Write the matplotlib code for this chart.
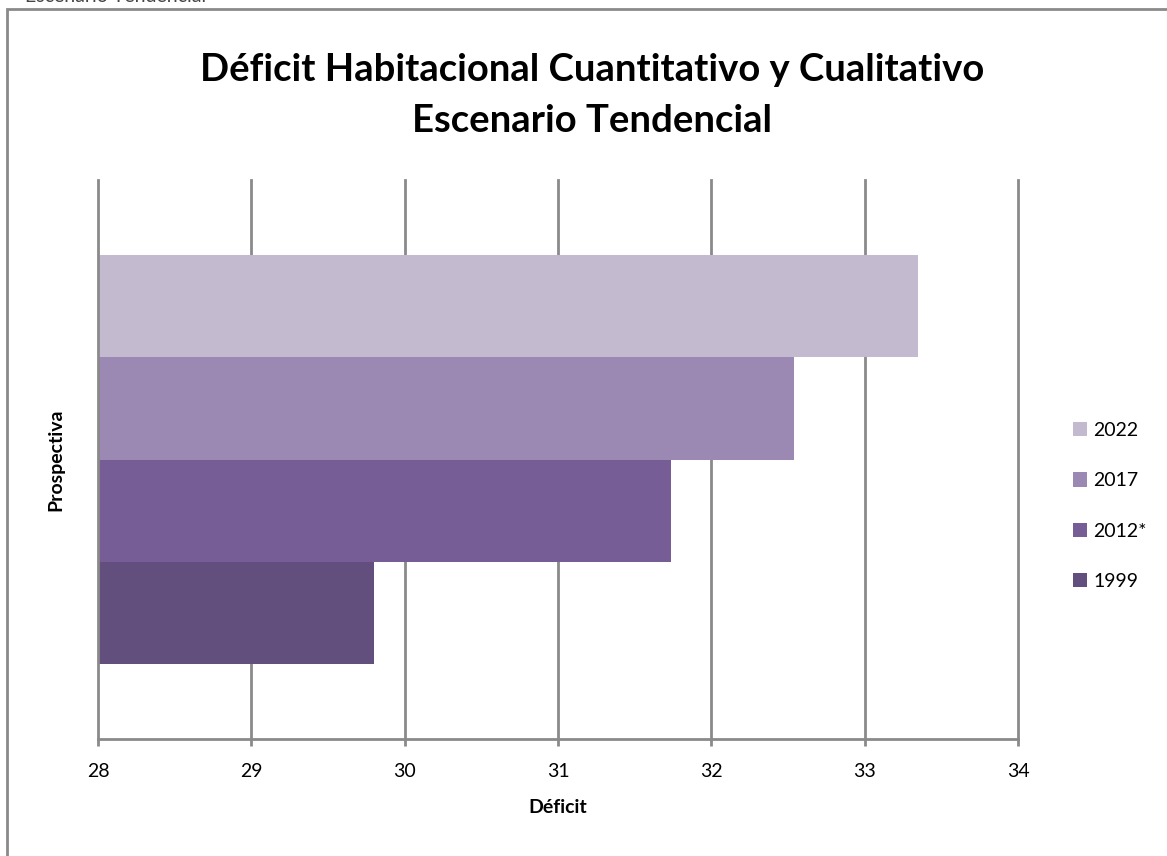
import matplotlib.pyplot as plt
import numpy as np
from matplotlib.patches import Rectangle

# Data
category = 'Prospectiva'
series = ['2022', '2017', '2012*', '1999']
values = [33.35, 32.54, 31.74, 29.80]
colors = ['#C3BAD0', '#9B89B3', '#775D96', '#634F7D']
xticks = [28, 29, 30, 31, 32, 33, 34]


def plot_deficit():
    plt.rcParams['font.family'] = ['Lato', 'DejaVu Sans']

    fig = plt.figure(figsize=(11.67, 8.56), dpi=100)
    W, H = 1167, 856

    # chart frame (runs off the right and bottom edge, as in the source)
    fig.patches.append(Rectangle((7 / W, -0.1), 1.2, 1 - 9 / H + 0.1,
                                 transform=fig.transFigure, fill=False,
                                 edgecolor='#8a8a8a', linewidth=2))
    # cut-off text from the page above the chart
    fig.text(25 / W, 1 - 1.5 / H, 'Escenario Tendencial', fontsize=14,
             ha='left', va='baseline', color='#444444')

    ax = fig.add_axes([98 / W, 1 - 739 / H, 920 / W, 559 / H])

    h = 0.183
    offsets = (1.5 - np.arange(len(series))) * h
    for name, val, col, off in zip(series, values, colors, offsets):
        ax.barh(off, val, height=h, color=col, label=name, zorder=3)

    ax.set_xlim(28, 34)
    ax.set_ylim(-0.5, 0.5)
    ax.set_xticks(xticks)
    ax.set_xticklabels([str(t) for t in xticks], fontsize=14)
    ax.set_yticks([])

    for t in xticks[1:]:
        ax.axvline(t, color='#8a8a8a', linewidth=2, zorder=0, clip_on=False)
    for s in ['top', 'right']:
        ax.spines[s].set_visible(False)
    for s in ['left', 'bottom']:
        ax.spines[s].set_color('#8a8a8a')
        ax.spines[s].set_linewidth(2)
        ax.spines[s].set_zorder(4)
    ax.tick_params(axis='x', direction='out', length=5, width=2,
                   color='#8a8a8a', pad=12)

    ax.set_xlabel('Déficit', fontsize=14, fontweight='bold', labelpad=14)
    ax.set_ylabel('Prospectiva', fontsize=14, fontweight='bold', labelpad=24)

    fig.text(592 / W, 1 - 70 / H, 'Déficit Habitacional Cuantitativo y Cualitativo',
             ha='center', va='center', fontsize=27.5, fontweight='bold')
    fig.text(592 / W, 1 - 121 / H, 'Escenario Tendencial',
             ha='center', va='center', fontsize=27.5, fontweight='bold')

    ax.legend(loc='center left', bbox_to_anchor=(1.051, 0.417), frameon=False,
              fontsize=14, handlelength=0.75, handleheight=0.75,
              handletextpad=0.3, labelspacing=1.72, borderaxespad=0)

    fig.savefig('out.png', dpi=100)


if __name__ == "__main__":
    plot_deficit()
